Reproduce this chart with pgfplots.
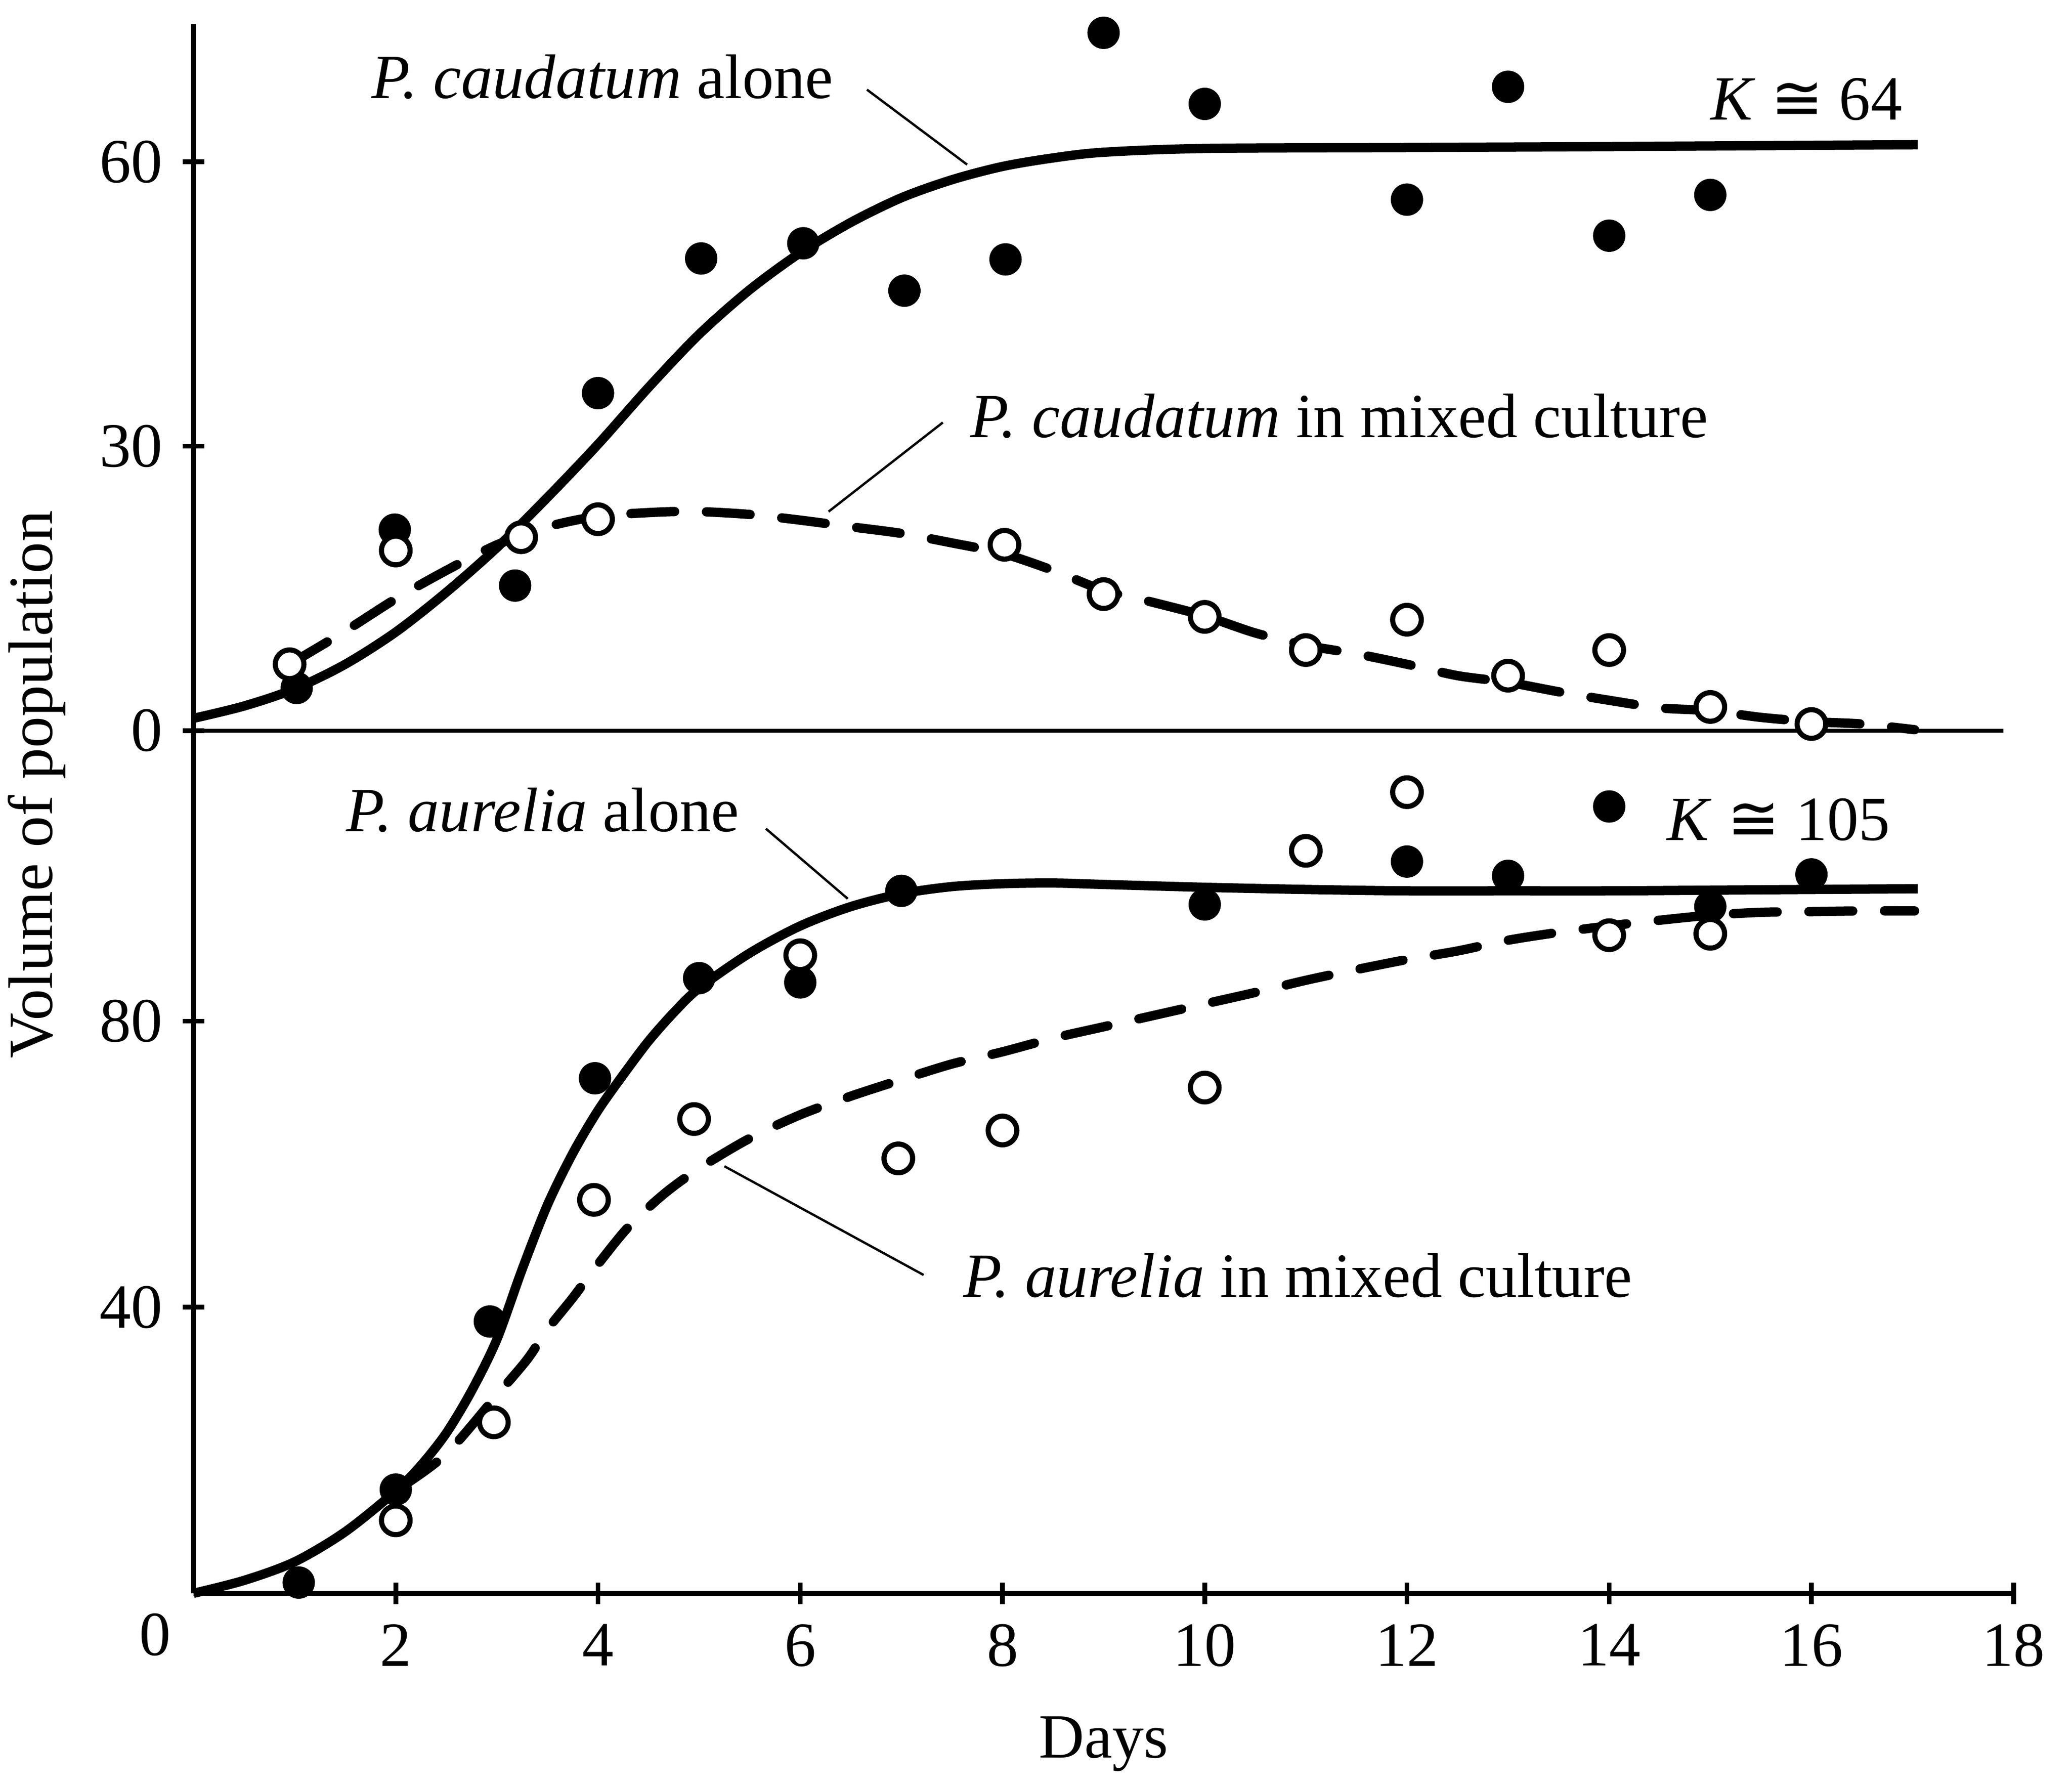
\documentclass[border=0pt]{standalone}
\usepackage{fontspec}
\setmainfont{Liberation Serif}
\newfontfamily\dejavu{DejaVu Sans}
\usepackage{pgfplots}
\pgfplotsset{compat=1.18}
\newcommand{\lbl}{\fontsize{13.5}{16}\selectfont}
\begin{document}
\begin{tikzpicture}
\path[use as bounding box] (-14.6mm,-14.35mm) rectangle (141.7mm,120.15mm);
\pgfplotsset{
  common/.style={
    scale only axis, width=137.3mm, xmin=0, xmax=18, clip=false,
    tick align=inside, major tick length=1.6mm,
    every tick/.style={black, line width=1pt},
    tick label style={font=\lbl},
    /pgf/number format/assume math mode=true,
    yticklabel style={xshift=-0.3mm},
    xticklabel style={yshift=-0.3mm},
  },
  nolinearrows/.style={
    axis line style={-, line width=1pt, black},
    every outer x axis line/.append style={-},
    every outer y axis line/.append style={-},
    every inner x axis line/.append style={-},
    every inner y axis line/.append style={-},
    x axis line style={-}, y axis line style={-},
  },
  curve/.style={black, line width=2pt, no markers, smooth, tension=0.5, line join=round},
  dcurve/.style={curve, line cap=round, dash pattern=on 3.3mm off 2.4mm},
  filled/.style={only marks, mark=*, mark size=1.15mm, mark options={fill=black, draw=black, line width=0.4pt}},
  open/.style={only marks, mark=*, mark size=1.08mm, mark options={fill=white, draw=black, line width=1.1pt}},
  leader/.style={black, line width=0.5pt, no markers},
}
% ---------------- lower panel: P. aurelia ----------------
\begin{axis}[common, at={(0,0)}, anchor=south west,
  height=65.05mm, ymin=0, ymax=120.6,
  axis x line=bottom, axis y line=left, nolinearrows,
  xtick={2,4,...,18}, ytick={40,80},
  extra x ticks={0},
  extra x tick style={major tick length=0pt, xticklabel style={xshift=-2.9mm}},
]
% P. aurelia alone (solid)
\addplot[curve] coordinates {
(0,0.0) (0.5,1.8) (1.0,4.4) (1.5,8.6) (2.0,14.3) (2.25,17.9) (2.5,22.4) (2.75,28.3)
(3.0,35.5) (3.25,45.3) (3.5,54.3) (3.75,61.5) (4.0,67.5) (4.25,72.5)
(4.5,77.2) (4.75,81.2) (5.0,84.6) (5.5,89.5) (6.0,93.3) (6.5,96.0)
(7.0,97.8) (7.5,98.8) (8.0,99.2) (8.5,99.3) (9.0,99.1) (10.0,98.7)
(11.0,98.4) (12.0,98.2) (13.0,98.2) (14.0,98.2) (15.0,98.3) (16.0,98.4) (17.05,98.5)
};
% P. aurelia in mixed culture (dashed)
\addplot[dcurve] coordinates {
(2.05,14.8) (2.5,19.5) (3.0,27.7) (3.3,32.7) (3.5,36.9) (3.75,41.3)
(4.0,46.0) (4.3,51.2) (4.65,55.8) (5.0,59.4) (5.5,63.6) (6.0,66.9)
(6.5,69.5) (7.0,71.8) (7.5,74.0) (8.0,75.7) (8.5,77.6) (9.0,79.2)
(9.5,80.8) (10.0,82.4) (10.5,84.0) (11.0,85.7) (11.5,87.2) (12.0,88.6)
(12.5,89.8) (13.0,91.3) (13.5,92.4) (14.0,93.3) (14.5,94.1) (15.0,94.8)
(15.5,95.2) (16.0,95.3) (16.5,95.4) (17.02,95.4)
};
% leader lines
\addplot[leader] coordinates {(5.66,106.9) (6.47,97.1)};
\addplot[leader] coordinates {(5.25,59.7) (7.22,44.5)};
% data points
\addplot[filled] coordinates {
(1.04,1.5) (2,14.5) (2.93,38.0) (3.97,72.0) (5.0,86.0) (6.0,85.4) (7.0,98.2)
(10,96.3) (12,102.3) (13,100.3) (14,110.0) (15,96.0) (16,100.5)
};
\addplot[open] coordinates {
(2,10.2) (2.97,23.9) (3.96,55.0) (4.95,66.3) (6.0,89.2) (6.97,60.8)
(8,64.7) (10,70.7) (11,103.8) (12,112.0) (14,92.0) (15,92.2)
};
\node[font=\lbl, anchor=base east] at (axis cs:5.56,106.5) {\textit{P. aurelia} alone};
\node[font=\lbl, anchor=base east] at (axis cs:16.94,105.3) {\textit{K} {\dejavu ≅} 105};
\node[font=\lbl, anchor=base west] at (axis cs:7.45,41.4) {\textit{P. aurelia} in mixed culture};
\node[font=\lbl, anchor=base] at (axis cs:9,0) [yshift=-12.4mm] {Days};
\end{axis}
% ---------------- upper panel: P. caudatum ----------------
\begin{axis}[common, at={(0,65.05mm)}, anchor=south west,
  height=53.27mm, ymin=0, ymax=74.5,
  axis x line=none, axis y line=left, nolinearrows,
  ytick={0,30,60},
]
% zero line
\addplot[black, line width=0.8pt, no markers] coordinates {(0,0) (17.9,0)};
% P. caudatum alone (solid)
\addplot[curve] coordinates {
(0,1.3) (0.5,2.6) (1.0,4.4) (1.5,7.0) (2.0,10.4) (2.5,14.6) (3.0,19.3)
(3.5,24.6) (4.0,30.2) (4.5,36.2) (5.0,41.8) (5.5,46.5) (6.0,50.4)
(6.5,53.6) (7.0,56.2) (7.5,58.1) (8.0,59.5) (8.5,60.4) (9.0,61.0)
(10.0,61.4) (12.0,61.5) (14.0,61.6) (17.05,61.8)
};
% P. caudatum in mixed culture (dashed)
\addplot[dcurve] coordinates {
(0.95,7.0) (1.5,10.5) (2.0,13.9) (2.5,16.9) (3.0,19.6) (3.5,21.5)
(4.0,22.6) (4.6,23.05) (5.0,23.1) (5.5,22.8) (6.0,22.2) (6.5,21.5)
(7.0,20.8) (7.5,19.8) (8.0,18.7) (8.5,16.9) (9.0,14.8) (9.5,13.5)
(10.0,12.1) (10.5,10.3) (11.0,9.0) (11.5,8.1) (12.0,7.0) (12.5,5.8)
(13.0,5.1) (13.5,4.1) (14.0,3.2) (14.5,2.4) (15.0,2.1) (15.5,1.4)
(16.0,0.95) (16.5,0.7) (17.02,0.1)
};
% leader lines
\addplot[leader] coordinates {(6.66,67.6) (7.65,59.7)};
\addplot[leader] coordinates {(7.41,32.5) (6.28,23.1)};
% data points
\addplot[filled] coordinates {
(1.02,4.5) (1.99,21.2) (3.18,15.3) (4.0,35.6) (5.02,49.8) (6.03,51.4)
(7.03,46.4) (8.03,49.7) (9,73.6) (10,66.1) (12,56.0) (13,67.9) (14,52.2) (15,56.5)
};
\addplot[open] coordinates {
(0.95,7.0) (2,19.0) (3.24,20.4) (4,22.3) (8.02,19.6) (9,14.4) (10,12.0)
(11,8.5) (12,11.7) (13,5.8) (14,8.5) (15,2.5) (16,0.7)
};
\node[font=\lbl, anchor=base east] at (axis cs:6.49,66.7) {\textit{P. caudatum} alone};
\node[font=\lbl, anchor=base east] at (axis cs:17.06,64.4) {\textit{K} {\dejavu ≅} 64};
\node[font=\lbl, anchor=base west] at (axis cs:7.52,30.9) {\textit{P. caudatum} in mixed culture};
\end{axis}
\node[font=\lbl, rotate=90] at (-11.83mm,61.0mm) {Volume of population};
\end{tikzpicture}
\end{document}
